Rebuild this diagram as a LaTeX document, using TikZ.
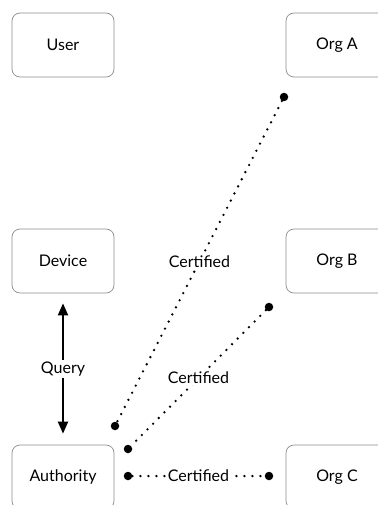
\documentclass[tikz,border=0pt]{standalone}
\usepackage{fontspec}
\setmainfont{Lato}
\usetikzlibrary{arrows.meta}
\begin{document}
\begin{tikzpicture}[x=1pt,y=-1pt,
  box/.style={draw=black!45, line width=0.7pt, rounded corners=8pt, minimum width=102pt, minimum height=64pt, inner sep=0pt, font=\fontsize{16}{18}\selectfont},
  dotend/.style={circle, fill=black, inner sep=0pt, minimum size=8.5pt},
  dotline/.style={line width=2.6pt, line cap=round, dash pattern=on 0pt off 8pt},
  lbl/.style={fill=white, inner sep=1.5pt, font=\fontsize{16}{18}\selectfont},
  qarrow/.style={line width=2pt, {Triangle[length=12pt,width=10pt]}-{Triangle[length=12pt,width=10pt]}}
]
\useasboundingbox (0,0) rectangle (377,505);
\node[box] (user) at (63,45) {User};
\node[box] (orga) at (337,45) {Org A};
\node[box] (dev) at (63,261) {Device};
\node[box] (orgb) at (337,261) {Org B};
\node[box] (auth) at (63,477) {Authority};
\node[box] (orgc) at (337,477) {Org C};

\node[dotend] (a1) at (284,97) {};
\node[dotend] (a2) at (115,426) {};
\node[dotend] (b1) at (269,307) {};
\node[dotend] (b2) at (128,449) {};
\node[dotend] (c1) at (128,476) {};
\node[dotend] (c2) at (269,476) {};

\draw[dotline] (a1) -- node[lbl] {Certified} (a2);
\draw[dotline] (b1) -- node[lbl] {Certified} (b2);
\draw[dotline] (c1) -- node[lbl] {Certified} (c2);

\draw[qarrow, shorten <=10pt, shorten >=11pt] (dev) -- node[lbl] {Query} (auth);
\end{tikzpicture}
\end{document}
